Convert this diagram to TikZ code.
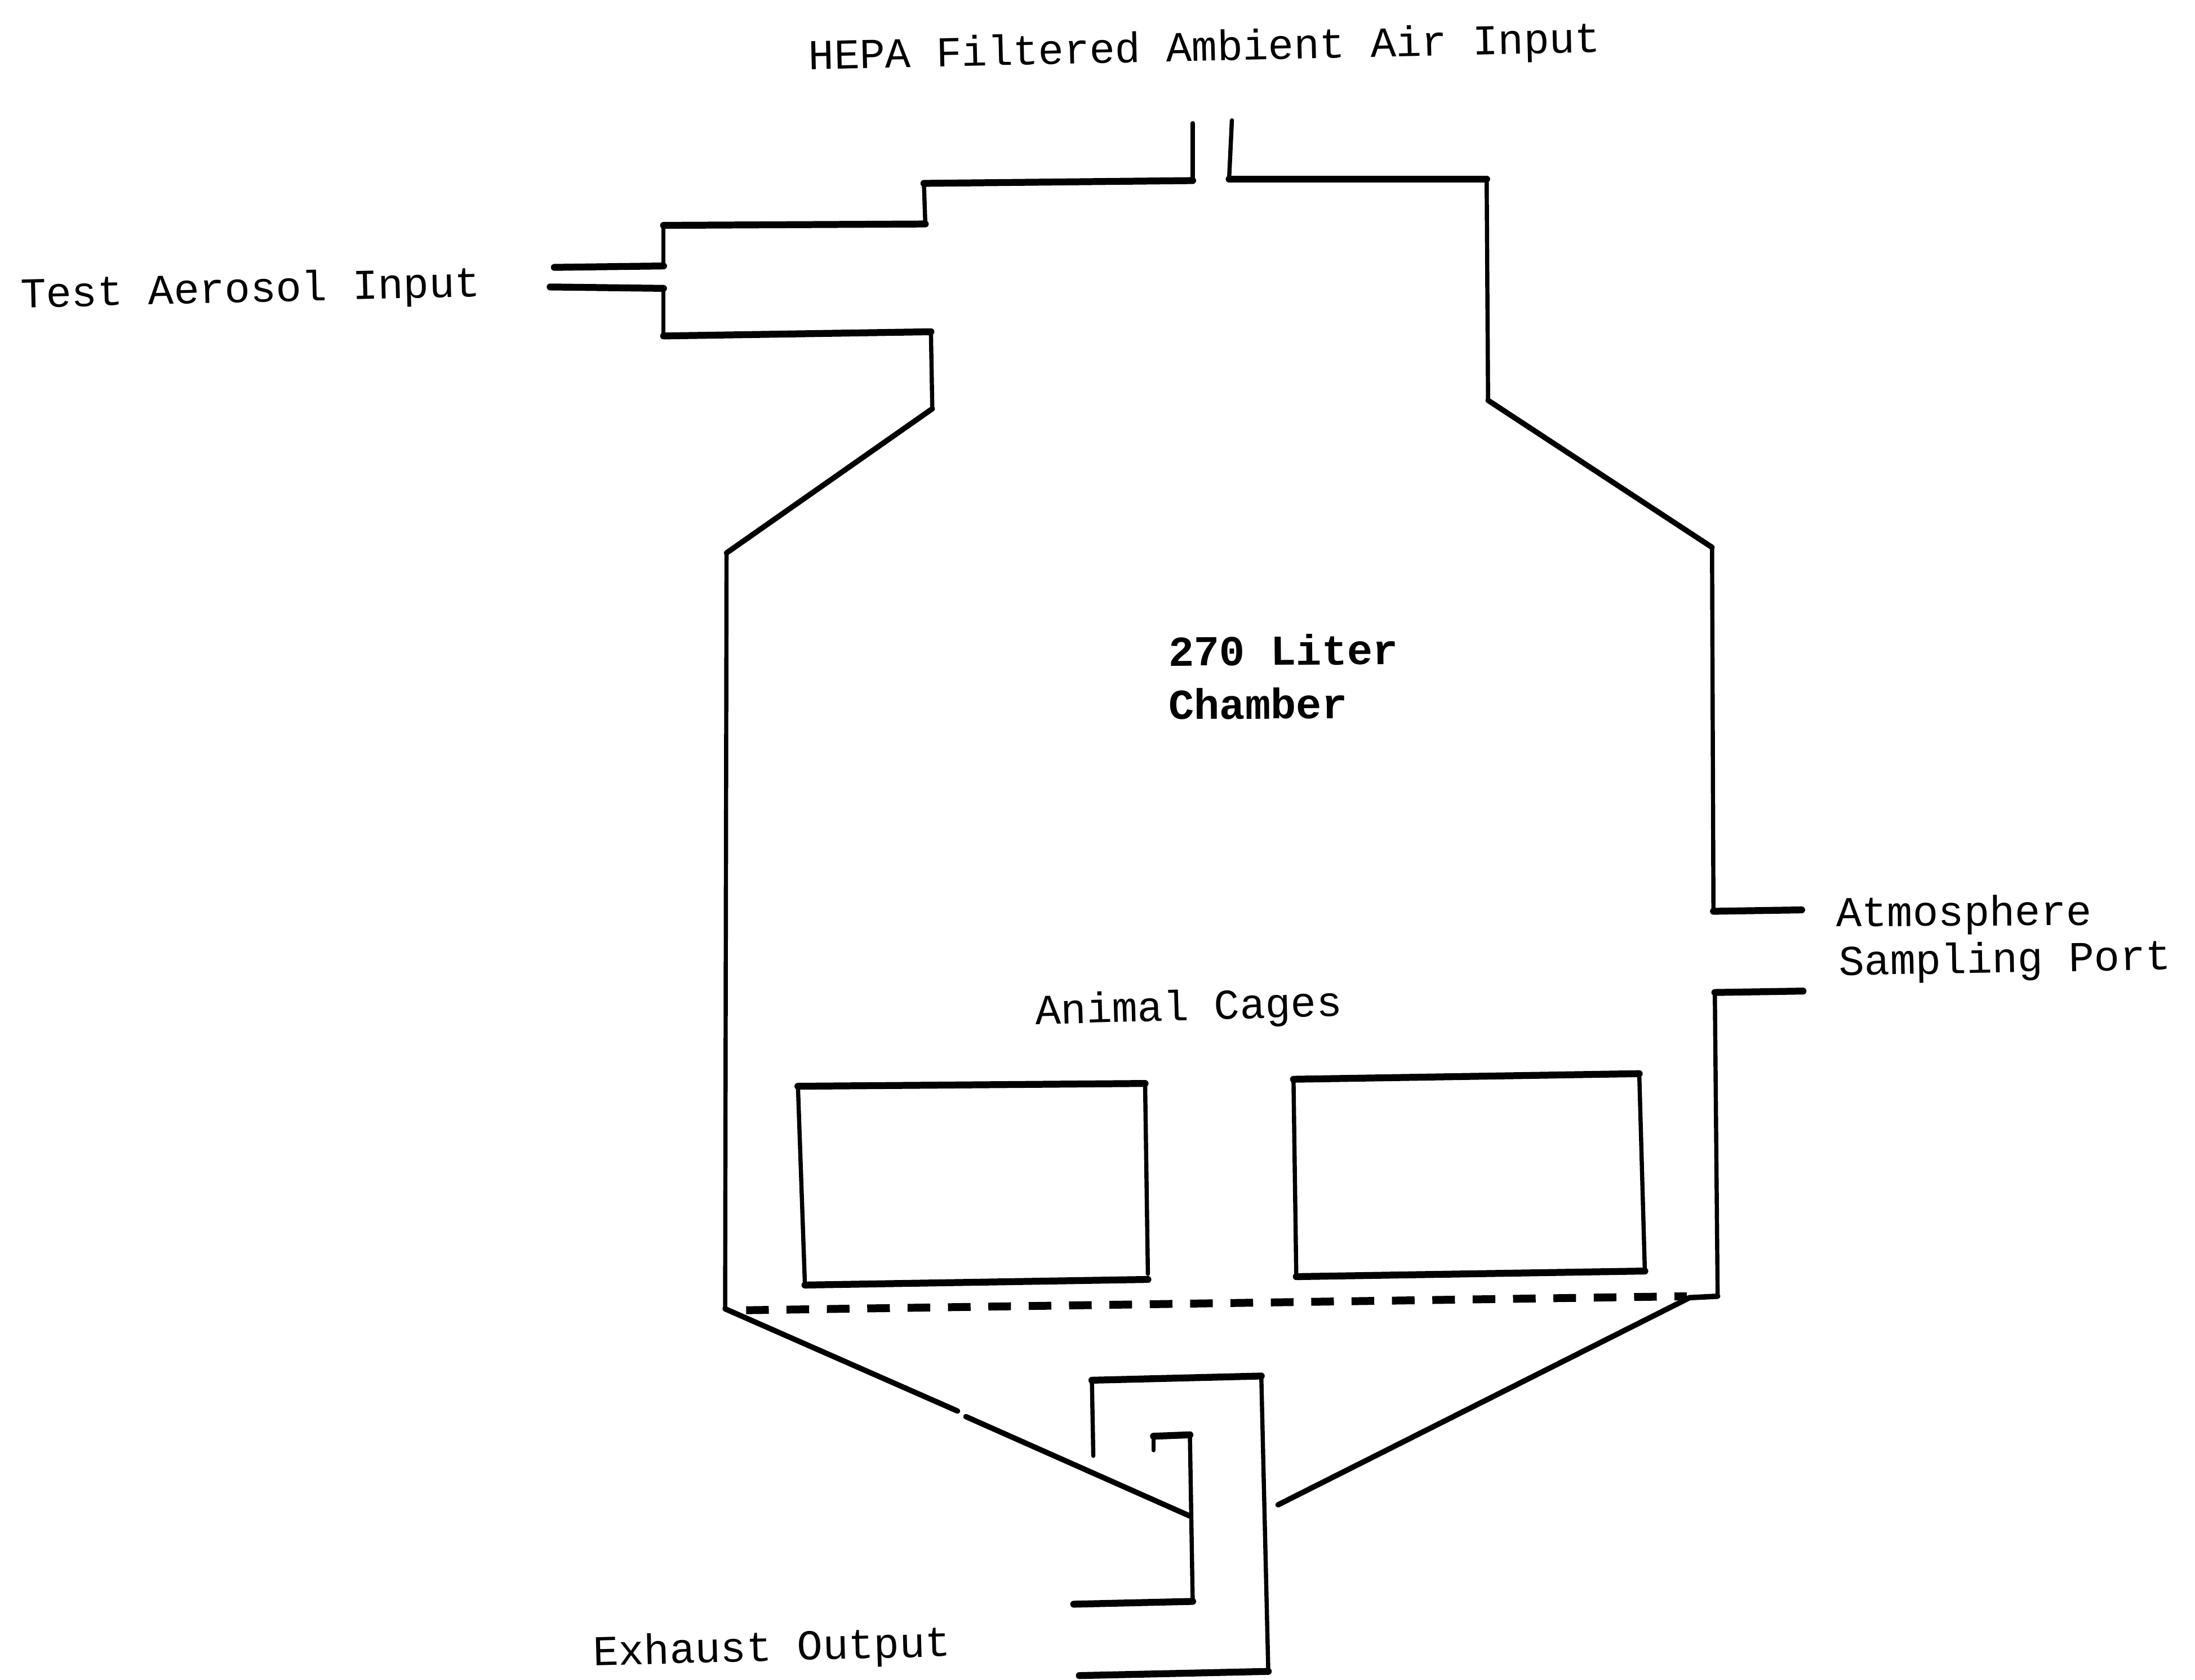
\documentclass[tikz,border=0pt]{standalone}
\usepackage{fontspec}
\setmonofont{Liberation Mono}
\usepackage{tikz}

\tikzset{
  horiz/.style={line width=1.4pt, line cap=round},
  vert/.style={line width=0.85pt, line cap=round},
  slant/.style={line width=1.1pt, line cap=round},
  scanlabel/.style={font=\ttfamily\fontsize{8.65}{10}\selectfont, inner sep=0pt, anchor=west},
  boldlabel/.style={scanlabel, font=\ttfamily\bfseries\fontsize{8.65}{10}\selectfont}
}

\begin{document}
\begin{tikzpicture}[x=0.01cm, y=-0.01cm]

\useasboundingbox (0,0) rectangle (1568,1200);

% Entree d'air du haut
\draw[vert] (852,88) -- (852,129);
\draw[vert] (880,86) -- (878,128);
\draw[horiz] (852,129) -- (660,131);
\draw[horiz] (878,128) -- (1062,128);

% Epaule gauche
\draw[vert] (660,131) -- (661,160);
\draw[horiz] (661,160) -- (474,161);
\draw[vert] (474,161) -- (474,190);
\draw[horiz] (474,190) -- (396,191);

% Entree aerosol
\draw[horiz] (393,205) -- (474,206);
\draw[vert] (474,206) -- (474,239);
\draw[horiz] (474,240) -- (665,237);
\draw[vert] (665,237) -- (666,292);

% Paroi gauche
\draw[slant] (666,292) -- (519,395);
\draw[vert] (519,395) -- (518,935);
\draw[slant] (518,935) -- (684,1008);
\draw[slant] (690,1012) -- (850,1083);

% Paroi droite
\draw[vert] (1062,128) -- (1063,286);
\draw[slant] (1063,286) -- (1223,391);
\draw[vert] (1223,391) -- (1224,651);
\draw[horiz] (1224,651) -- (1287,650);

% Port de prelevement
\draw[horiz] (1288,708) -- (1225,709);
\draw[vert] (1225,709) -- (1227,926);
\draw[slant] (1227,926) -- (1207,927) -- (913,1075);

% Grille
\draw[horiz, line width=1.6pt, line cap=butt, dash pattern=on 4.6pt off 3.6pt] (533,936) -- (1205,926);

% Cages
\draw[horiz] (570,776) -- (818,774);
\draw[vert] (818,774) -- (820,910);
\draw[horiz] (820,914) -- (575,918);
\draw[vert] (575,918) -- (570,776);
\draw[horiz] (924,771) -- (1171,767);
\draw[vert] (1171,767) -- (1175,908);
\draw[horiz] (1175,908) -- (926,912);
\draw[vert] (926,912) -- (924,771);

% Sortie interieure
\draw[vert] (824,1036) -- (824,1026);
\draw[horiz] (824,1026) -- (850,1025);
\draw[vert] (850,1025) -- (852,1144);
\draw[horiz] (852,1144) -- (767,1146);

% Sortie exterieure
\draw[vert] (781,1040) -- (780,986);
\draw[horiz] (780,986) -- (901,983);
\draw[vert] (901,983) -- (906,1194);
\draw[horiz] (906,1194) -- (771,1197);

% Textes
\node[scanlabel, rotate=1.3] (airinput) at (577,42) {HEPA Filtered Ambient Air Input};
\node[scanlabel, rotate=1.4] (aerosolinput) at (14,212) {Test Aerosol Input};
\node[boldlabel, rotate=0.5] (chamberone) at (834,465) {270 Liter};
\node[boldlabel, rotate=0.3] (chambertwo) at (834,503) {Chamber};
\node[scanlabel, rotate=0.3] (portone) at (1311,654) {Atmosphere};
\node[scanlabel, rotate=1] (porttwo) at (1313,689) {Sampling Port};
\node[scanlabel, rotate=1.6] (cages) at (739,724) {Animal Cages};
\node[scanlabel, rotate=1.5] (exhaust) at (423,1182) {Exhaust Output};

\end{tikzpicture}
\end{document}
